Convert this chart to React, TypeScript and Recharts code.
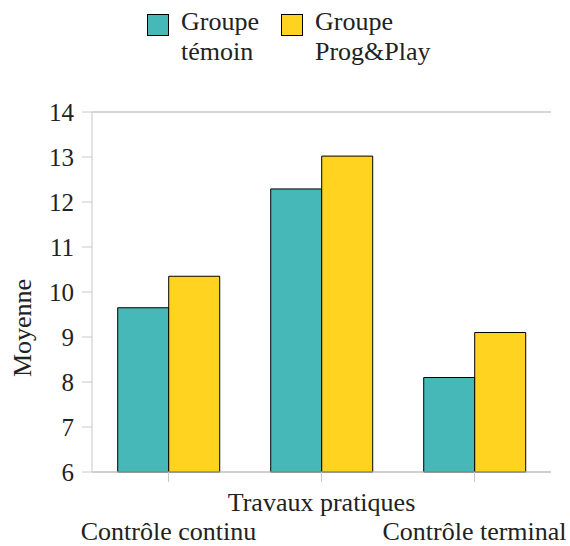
import React from 'react'
import { Bar, BarChart, CartesianGrid, Legend, XAxis, YAxis } from 'recharts'

// categories + group means
const categories = ['Contrôle continu', 'Travaux pratiques', 'Contrôle terminal']
const temoin = [9.65, 12.29, 8.1]
const progPlay = [10.35, 13.02, 9.1]
const yTicks = [6, 7, 8, 9, 10, 11, 12, 13, 14]

const series = [
  { key: 'temoin', label: ['Groupe', 'témoin'], color: '#47B8B8' },
  { key: 'progPlay', label: ['Groupe', 'Prog&Play'], color: '#FFD320' },
]

const data = categories.map((name, i) => ({ name, temoin: temoin[i], progPlay: progPlay[i] }))

const FONT = 'Liberation Serif'
const GRID = '#c8c8c8'

// labels alternate rows so the long names don't collide
const StaggerTick = (props: any) => {
  const { x, y, payload, index } = props
  const dy = index % 2 === 1 ? 27 : 56
  return (
    <text x={x} y={y} dy={dy} textAnchor="middle" fill="#222" fontSize={26} style={{ fontFamily: FONT }}>
      {payload.value}
    </text>
  )
}

const YLabel = (props: any) => {
  const { viewBox } = props
  const cx = 22
  const cy = viewBox.y + viewBox.height / 2 + 36
  return (
    <text x={cx} y={cy} transform={`rotate(-90 ${cx} ${cy})`} textAnchor="middle" dominantBaseline="central"
      fill="#222" fontSize={26} style={{ fontFamily: FONT }}>
      Moyenne
    </text>
  )
}

const LegendBox = () => (
  <div style={{ position: 'relative', height: 100, fontFamily: FONT, fontSize: 26, color: '#222' }}>
    {series.map((s, i) => (
      <div key={s.key} style={{ position: 'absolute', left: i === 0 ? 147 : 281, top: 0 }}>
        <div style={{ position: 'absolute', left: 0, top: 2, width: 20, height: 20, background: s.color, border: '1px solid #000' }} />
        <div style={{ position: 'absolute', left: 34, top: -5, lineHeight: '30px', whiteSpace: 'nowrap' }}>
          {s.label[0]}<br />{s.label[1]}
        </div>
      </div>
    ))}
  </div>
)

const App = () => {
  return (
    <div style={{ position: 'absolute', left: 0, top: 0, width: 570, height: 546, background: '#fff', fontFamily: FONT }}>
      <BarChart width={570} height={546} data={data} margin={{ top: 12, right: 19, bottom: 0, left: 0 }}
        barCategoryGap="16.8%" barGap={0} style={{ fontFamily: FONT }}>
        <Legend verticalAlign="top" align="left" content={<LegendBox />} wrapperStyle={{ left: 0, width: 570 }} />
        <CartesianGrid vertical={false} stroke={GRID} strokeWidth={1.5} />
        <XAxis dataKey="name" stroke={GRID} tickSize={10} tickLine={{ stroke: GRID }} height={74}
          interval={0} tick={<StaggerTick />} />
        <YAxis yAxisId="left" domain={[6, 14]} ticks={yTicks} width={92} stroke={GRID} tickSize={10} tickMargin={8}
          tick={{ fill: '#222', fontSize: 25, fontFamily: FONT }}
          label={<YLabel />} />
        <YAxis yAxisId="right" orientation="right" domain={[6, 14]} width={0} tick={false} tickLine={false} stroke={GRID} />
        {series.map((s) => (
          <Bar key={s.key} yAxisId="left" dataKey={s.key} fill={s.color} stroke="#000" strokeWidth={1} isAnimationActive={false} />
        ))}
      </BarChart>
    </div>
  )
}

export default App
